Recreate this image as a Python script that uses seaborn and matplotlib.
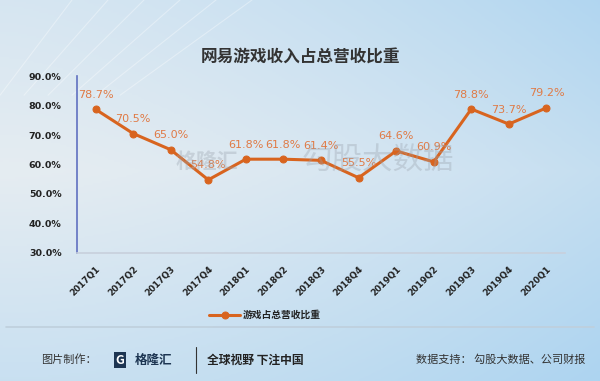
import matplotlib.pyplot as plt
import numpy as np
import pandas as pd
import seaborn as sns

# chart data
quarters = ["2017Q1", "2017Q2", "2017Q3", "2017Q4", "2018Q1", "2018Q2", "2018Q3",
            "2018Q4", "2019Q1", "2019Q2", "2019Q3", "2019Q4", "2020Q1"]
game_share = [78.7, 70.5, 65.0, 54.8, 61.8, 61.8, 61.4, 55.5, 64.6, 60.9, 78.8, 73.7, 79.2]
y_ticks = [30, 40, 50, 60, 70, 80, 90]

df = pd.DataFrame({"quarter": quarters, "share": game_share})
df["pos"] = range(len(df))

sns.set_theme(style="white")
plt.rcParams['font.family'] = ['Noto Sans CJK SC', 'DejaVu Sans']

orange = "#d8641f"
fig = plt.figure(figsize=(6, 3.81), dpi=100)

# light blue background gradient, whiter in the middle
bg = fig.add_axes([0, 0, 1, 1], zorder=-10)
gx, gy = np.meshgrid(np.linspace(0, 1, 200), np.linspace(0, 1, 200))
grad = 0.6 * gx ** 1.5 + 0.35 * np.abs(gy - 0.45) * 2 + 0.15 * (1 - gx) * gy
bg.imshow(grad, cmap=sns.light_palette("#a6d1f0", as_cmap=True), aspect="auto",
          extent=[0, 1, 0, 1], vmin=-0.1, vmax=1.1)
# faint diagonal streaks top-left
for k in range(6):
    bg.plot([0.0 + k * 0.04, 0.12 + k * 0.06], [0.75, 1.0], color="white", alpha=0.35,
            linewidth=0.8)
bg.set_xlim(0, 1)
bg.set_ylim(0, 1)
bg.set_axis_off()

ax = fig.add_axes([0.128, 0.336, 0.814, 0.4645])
ax.patch.set_alpha(0)
sns.lineplot(data=df, x="pos", y="share", ax=ax, color=orange, linewidth=2.2,
             marker="o", markersize=5, markeredgecolor=orange, label="游戏占总营收比重")

for x, v in zip(df["pos"], df["share"]):
    ax.text(x, v + 3.2, f"{v:.1f}%", ha="center", va="bottom", fontsize=8,
            color="#e07a45", family="DejaVu Sans")

ax.set_xlim(-0.5, 12.5)
ax.set_ylim(30, 90)
ax.set_yticks(y_ticks)
ax.set_yticklabels([f"{t:.1f}%" for t in y_ticks], fontsize=6.8, fontweight="bold",
                   color="#222222", family="DejaVu Sans")
ax.set_xticks(df["pos"])
ax.set_xticklabels(quarters, rotation=45, ha="right", rotation_mode="anchor",
                   fontsize=6.3, fontweight="bold", color="#222222", family="DejaVu Sans")
ax.tick_params(axis="x", length=0, pad=8)
ax.tick_params(axis="y", length=0, pad=11)
ax.set_xlabel("")
ax.set_ylabel("")
for s in ["top", "right"]:
    ax.spines[s].set_visible(False)
ax.spines["left"].set_color("#6070c0")
ax.spines["left"].set_linewidth(1.2)
ax.spines["bottom"].set_color("#c8d0dc")
ax.spines["bottom"].set_linewidth(1.2)

leg = ax.legend(loc="center", bbox_to_anchor=(0.385, -0.35), frameon=False,
                prop={"size": 7, "weight": "bold"}, handlelength=3.2, handletextpad=0.2)
for t in leg.get_texts():
    t.set_color("#222222")

# watermarks
fig.text(0.345, 0.575, "格隆汇", fontsize=15, color="#9aa3ad", alpha=0.35,
         ha="center", va="center", fontweight="bold")
fig.text(0.63, 0.58, "勾股大数据", fontsize=22, color="#9aa3ad", alpha=0.35,
         ha="center", va="center")

fig.text(0.5, 0.85, "网易游戏收入占总营收比重", ha="center", va="center",
         fontsize=12, color="#333333", fontweight="bold")

# footer
fig.add_artist(plt.Line2D([0.01, 0.99], [0.142, 0.142], color="#bfcfdc", linewidth=1.2))
fig.text(0.068, 0.055, "图片制作：", fontsize=8, color="#333333", va="center")
fig.text(0.2, 0.055, "G", fontsize=9, color="white", va="center", ha="center",
         fontweight="bold", bbox=dict(boxstyle="square,pad=0.15", fc="#1d3552", ec="none"))
fig.text(0.225, 0.055, "格隆汇", fontsize=9, color="#1d3552", va="center", fontweight="bold")
fig.add_artist(plt.Line2D([0.327, 0.327], [0.02, 0.09], color="#333333", linewidth=0.8))
fig.text(0.345, 0.055, "全球视野 下注中国", fontsize=8.5, color="#222222",
         va="center", fontweight="bold")
fig.text(0.975, 0.055, "数据支持： 勾股大数据、公司财报", fontsize=8, color="#333333",
         va="center", ha="right")

fig.savefig("out.png", dpi=100)
